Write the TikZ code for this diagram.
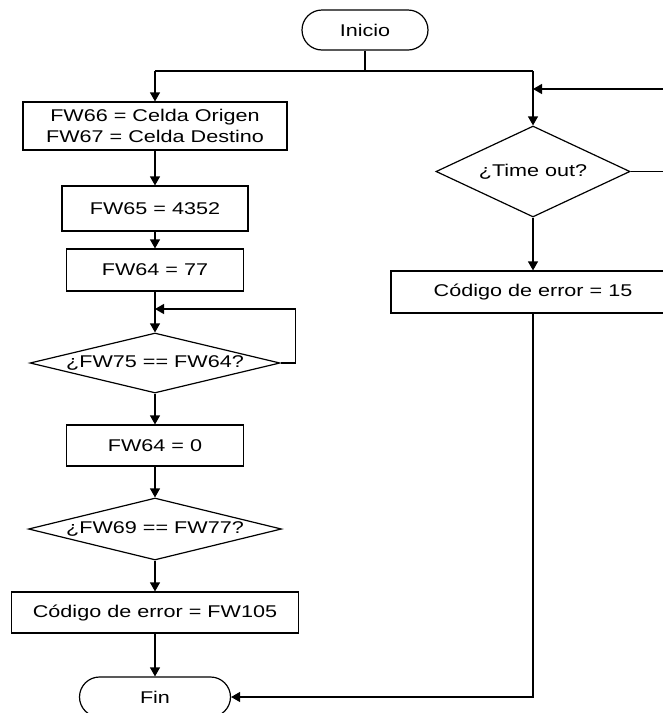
\documentclass[tikz,border=0pt]{standalone}
\usepackage{fontspec}
\setmainfont{Liberation Sans}[FakeStretch=1.27]
\usetikzlibrary{arrows.meta,shapes.geometric,shapes.misc}
\begin{document}
\begin{tikzpicture}[x=1pt,y=-1pt,
  every node/.style={font=\fontsize{17}{21}\selectfont, inner sep=0pt},
  proc/.style={draw, rectangle, line width=1.2pt, align=center},
  term/.style={draw, rounded rectangle, line width=1.2pt},
  decision/.style={draw, diamond, line width=1.2pt},
  flow/.style={line width=1.2pt, -{Triangle[length=9pt,width=10pt]}},
  link/.style={line width=1.2pt}]
\useasboundingbox (0,0) rectangle (663,713);
\clip (0,0) rectangle (663,713);

% terminals
\node[term, minimum width=126pt, minimum height=40pt] (start) at (365,30) {Inicio};
\node[term, minimum width=151pt, minimum height=40pt] (fin) at (155,697) {Fin};

% left column
\node[proc, minimum width=264pt, minimum height=48pt] (b1) at (155,126) {FW66 = Celda Origen\\FW67 = Celda Destino};
\node[proc, minimum width=186pt, minimum height=45pt] (b2) at (155,208.5) {FW65 = 4352};
\node[proc, minimum width=177pt, minimum height=42pt] (b3) at (155,270) {FW64 = 77};
\node[decision, minimum width=250pt, minimum height=60pt] (d1) at (155,363) {\makebox[0pt]{¿FW75 == FW64?}};
\node[proc, minimum width=177pt, minimum height=41pt] (b4) at (155,445.5) {FW64 = 0};
\node[decision, minimum width=253pt, minimum height=62pt] (d2) at (155,529) {\makebox[0pt]{¿FW69 == FW77?}};
\node[proc, minimum width=287pt, minimum height=41pt] (b5) at (155,612.5) {Código de error = FW105};

% right column
\node[decision, minimum width=194pt, minimum height=91pt] (d3) at (533,171.5) {\makebox[0pt]{¿Time out?}};
\node[proc, minimum width=284pt, minimum height=42pt] (b6) at (533,292) {Código de error = 15};

% junctions
\coordinate (jl) at (155,71);
\coordinate (jr) at (533,71);
\coordinate (inR) at (663,89);
\coordinate (outR) at (663,171.5);
\coordinate (loopin) at (155,309);

% connectors
\draw[link] (start.south) -- (start.south |- jl);
\draw[link] (jl) -- (jr);
\draw[flow] (jl) -- (b1.north);
\draw[flow] (jr) -- (d3.north);
\draw[flow] (inR) -- (jr |- inR);
\draw[link] (d3.east) -- (outR);
\draw[flow] (d3.south) -- (b6.north);
\draw[flow] (b6.south) |- (fin.east);

\draw[flow] (b1.south) -- (b2.north);
\draw[flow] (b2.south) -- (b3.north);
\draw[flow] (b3.south) -- (d1.north);
\draw[flow] (d1.east) -- ++(15,0) |- (loopin);
\draw[flow] (d1.south) -- (b4.north);
\draw[flow] (b4.south) -- (d2.north);
\draw[flow] (d2.south) -- (b5.north);
\draw[flow] (b5.south) -- (fin.north);
\end{tikzpicture}
\end{document}
